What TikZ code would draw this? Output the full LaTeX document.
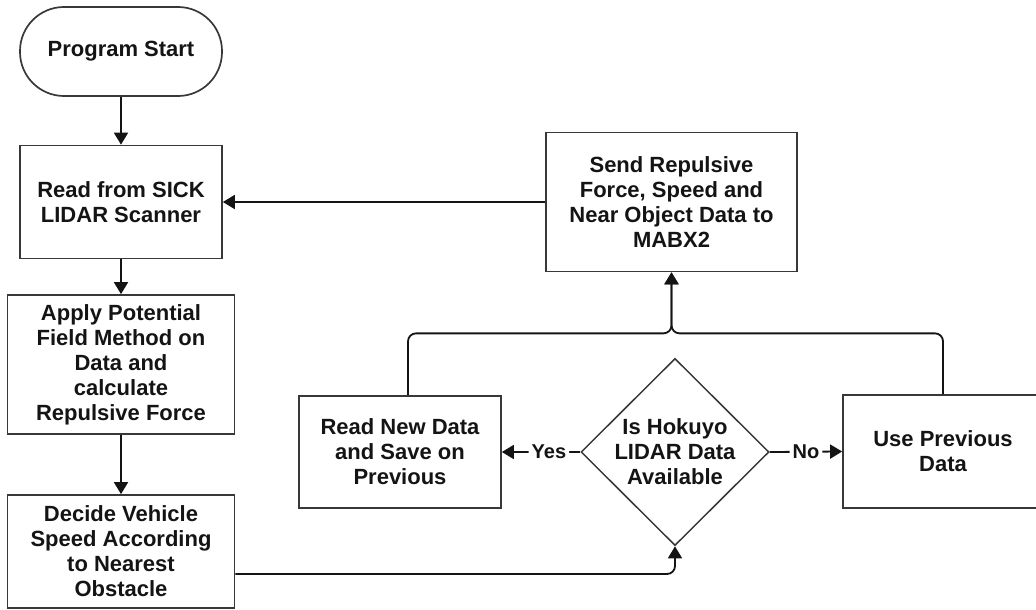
\documentclass[tikz,border=0pt]{standalone}
\usepackage{fontspec}
\setmainfont{Liberation Sans}
\usetikzlibrary{arrows.meta,shapes.geometric}
\begin{document}
\begin{tikzpicture}[x=1pt,y=-1pt,
  every node/.style={font=\fontsize{22}{25}\selectfont\bfseries, text=black!92},
  box/.style={draw=black!78, line width=1.7pt, rectangle, align=center, inner sep=0pt},
  decision/.style={draw=black!78, line width=1.5pt, diamond, align=center, inner sep=0pt},
  conn/.style={line width=1.8pt, draw=black!92, rounded corners=8pt,
    -{Triangle[length=12pt,width=14pt]}},
  lbl/.style={fill=white, inner sep=3pt, font=\fontsize{20}{22}\selectfont\bfseries}]
\useasboundingbox (0,0) rectangle (1036,610);

% left column
\node[box, rounded corners=44pt, minimum width=202pt, minimum height=89pt]
  (start) at (121,51.5) {Program Start};
\node[box, minimum width=202pt, minimum height=113pt]
  (sick) at (121,202) {Read from SICK\\LIDAR Scanner};
\node[box, minimum width=227pt, minimum height=139pt]
  (apply) at (121,364.5) {Apply Potential\\Field Method on\\Data and\\calculate\\Repulsive Force};
\node[box, minimum width=227pt, minimum height=113pt]
  (decide) at (121,551.5) {Decide Vehicle\\Speed According\\to Nearest\\Obstacle};

% right part
\node[box, minimum width=251pt, minimum height=139pt]
  (send) at (671.5,202) {Send Repulsive\\Force, Speed and\\Near Object Data to\\MABX2};
\node[decision, minimum width=188pt, minimum height=175pt]
  (diam) at (675,452) {Is Hokuyo\\LIDAR Data\\Available};
\node[box, minimum width=202pt, minimum height=112pt]
  (readnew) at (400,452) {Read New Data\\and Save on\\Previous};
\node[box, minimum width=200pt, minimum height=113pt]
  (useprev) at (943,451.5) {Use Previous\\Data};

\coordinate (merge) at ([yshift=-61pt]send.south);

% connectors
\draw[conn] (start) -- (sick);
\draw[conn] (sick) -- (apply);
\draw[conn] (apply) -- (decide);
\draw[conn] ([yshift=-22.5pt]decide.east) -| (diam.south);
\draw[conn] (diam.west) -- node[lbl, pos=0.4] {Yes} (readnew.east);
\draw[conn] (diam.east) -- node[lbl, pos=0.5] {No} (useprev.west);
\draw[conn] ([xshift=8pt]readnew.north) |- (merge) -- (send.south);
\draw[conn] (useprev.north) |- (merge) -- (send.south);
\draw[conn] (send.west) -- (sick.east);
\end{tikzpicture}
\end{document}
